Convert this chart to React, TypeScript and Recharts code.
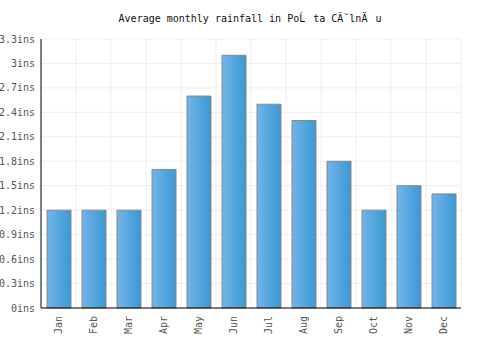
import React from "react";
import { BarChart, Bar, XAxis, YAxis, CartesianGrid } from "recharts";

const months = ["Jan", "Feb", "Mar", "Apr", "May", "Jun", "Jul", "Aug", "Sep", "Oct", "Nov", "Dec"];
const rainfall = [1.2, 1.2, 1.2, 1.7, 2.6, 3.1, 2.5, 2.3, 1.8, 1.2, 1.5, 1.4];
const yTicks = [0, 0.3, 0.6, 0.9, 1.2, 1.5, 1.8, 2.1, 2.4, 2.7, 3, 3.3];
const title = "Average monthly rainfall in Po\u0139\u009Fta C\u0102\u02D8ln\u00C4\u0083u";

const data = months.map((m, i) => ({ month: m, value: rainfall[i] }));

const FONT = "'DejaVu Sans Mono', monospace";

const XTick = (props: any) => {
  const { x, y, payload } = props;
  return (
    <text
      x={x}
      y={y}
      transform={`rotate(-90, ${x}, ${y})`}
      textAnchor="end"
      dominantBaseline="central"
      fontFamily={FONT}
      fontSize={10}
      fill="#555"
    >
      {payload.value}
    </text>
  );
};

export default function App() {
  return (
    <div style={{ position: "absolute", left: 0, top: 0, width: 500, height: 350, background: "#fff" }}>
      <div
        style={{
          position: "absolute",
          left: 0,
          top: 12,
          width: 500,
          textAlign: "center",
          fontFamily: FONT,
          fontSize: 10,
          color: "#111",
          whiteSpace: "pre",
        }}
      >
        {title}
      </div>
      <BarChart
        width={500}
        height={350}
        data={data}
        margin={{ top: 39, right: 39, bottom: 0, left: 0 }}
        barSize={24}
      >
        <defs>
          <linearGradient id="barGrad" x1="0" y1="0" x2="1" y2="0">
            <stop offset="0%" stopColor="#72b5ea" />
            <stop offset="100%" stopColor="#3a98d2" />
          </linearGradient>
        </defs>
        <CartesianGrid
          stroke="#eeeeee"
          strokeWidth={1}
          verticalCoordinatesGenerator={({ offset }: any) =>
            months.map((_, i) => offset.left + ((i + 1) * offset.width) / months.length)
          }
        />
        <XAxis
          dataKey="month"
          axisLine={{ stroke: "#000" }}
          tickLine={false}
          tickSize={0}
          tickMargin={8}
          height={42}
          interval={0}
          tick={<XTick />}
        />
        <YAxis
          width={41}
          domain={[0, 3.3]}
          ticks={yTicks}
          interval={0}
          axisLine={{ stroke: "#000" }}
          tickLine={false}
          tickSize={0}
          tickMargin={6}
          tickFormatter={(v: number) => `${v}ins`}
          tick={{ fontFamily: FONT, fontSize: 10, fill: "#555" }}
        />
        <Bar dataKey="value" fill="url(#barGrad)" stroke="#888" strokeWidth={1} isAnimationActive={false} />
      </BarChart>
    </div>
  );
}
